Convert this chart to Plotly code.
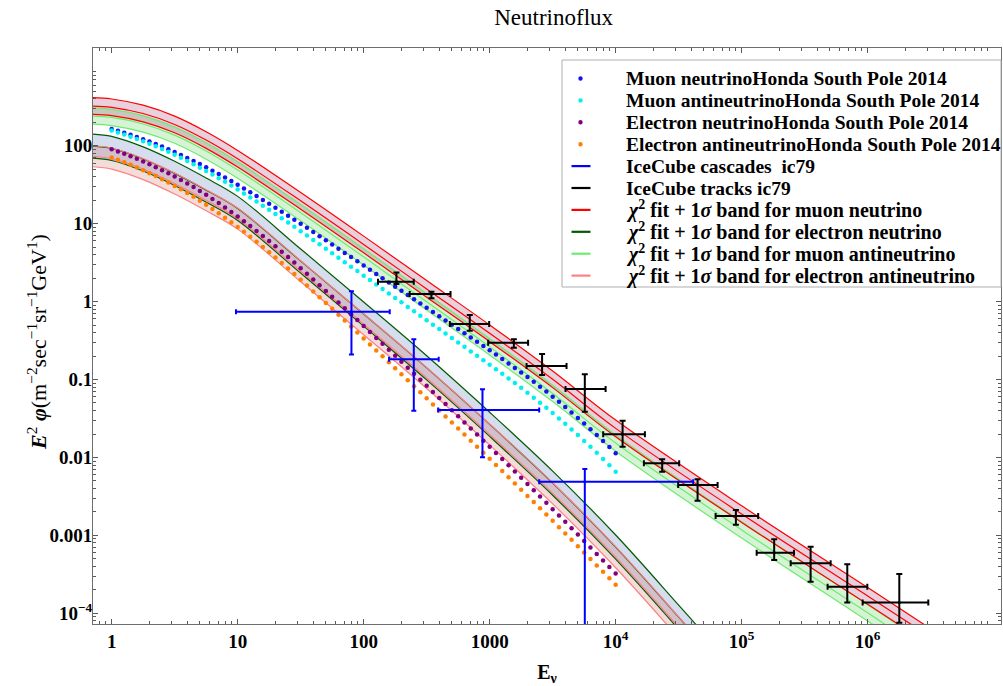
import plotly.graph_objects as go

# ---------------- Honda 2014 South Pole atmospheric fluxes ----------------
# log10(E / GeV) grid of the table and log10(E^2 phi) for each flavour
honda_log_e = [
    0.00, 0.05, 0.10, 0.15, 0.20, 0.25, 0.30, 0.35, 0.40, 0.45,
    0.50, 0.55, 0.60, 0.65, 0.70, 0.75, 0.80, 0.85, 0.90, 0.95,
    1.00, 1.05, 1.10, 1.15, 1.20, 1.25, 1.30, 1.35, 1.40, 1.45,
    1.50, 1.55, 1.60, 1.65, 1.70, 1.75, 1.80, 1.85, 1.90, 1.95,
    2.00, 2.05, 2.10, 2.15, 2.20, 2.25, 2.30, 2.35, 2.40, 2.45,
    2.50, 2.55, 2.60, 2.65, 2.70, 2.75, 2.80, 2.85, 2.90, 2.95,
    3.00, 3.05, 3.10, 3.15, 3.20, 3.25, 3.30, 3.35, 3.40, 3.45,
    3.50, 3.55, 3.60, 3.65, 3.70, 3.75, 3.80, 3.85, 3.90, 3.95,
    4.00,
]
honda_numu = [
    2.214, 2.191, 2.166, 2.140, 2.113, 2.084, 2.054, 2.022, 1.989, 1.955,
    1.919, 1.882, 1.844, 1.805, 1.764, 1.723, 1.680, 1.636, 1.592, 1.546,
    1.499, 1.451, 1.403, 1.354, 1.305, 1.255, 1.205, 1.154, 1.103, 1.051,
    0.999, 0.946, 0.893, 0.840, 0.786, 0.733, 0.679, 0.625, 0.571, 0.517,
    0.463, 0.409, 0.355, 0.300, 0.246, 0.192, 0.138, 0.083, 0.029, -0.025,
    -0.079, -0.134, -0.188, -0.243, -0.297, -0.352, -0.406, -0.461, -0.515, -0.570,
    -0.624, -0.679, -0.736, -0.793, -0.851, -0.909, -0.969, -1.030, -1.092, -1.155,
    -1.220, -1.286, -1.354, -1.423, -1.493, -1.565, -1.638, -1.713, -1.789, -1.867,
    -1.946,
]
honda_numubar = [
    2.194, 2.170, 2.143, 2.116, 2.087, 2.057, 2.025, 1.992, 1.957, 1.922,
    1.884, 1.845, 1.804, 1.763, 1.719, 1.676, 1.630, 1.584, 1.537, 1.489,
    1.439, 1.388, 1.336, 1.284, 1.231, 1.178, 1.124, 1.070, 1.015, 0.960,
    0.904, 0.848, 0.791, 0.735, 0.677, 0.621, 0.563, 0.506, 0.448, 0.391,
    0.333, 0.276, 0.219, 0.161, 0.104, 0.047, -0.010, -0.068, -0.125, -0.182,
    -0.239, -0.297, -0.353, -0.411, -0.467, -0.525, -0.581, -0.639, -0.695, -0.753,
    -0.809, -0.867, -0.926, -0.986, -1.046, -1.107, -1.169, -1.233, -1.297, -1.363,
    -1.430, -1.499, -1.569, -1.641, -1.713, -1.788, -1.864, -1.941, -2.020, -2.100,
    -2.182,
]
honda_nue = [
    1.954, 1.926, 1.896, 1.865, 1.832, 1.798, 1.762, 1.725, 1.686, 1.646,
    1.604, 1.561, 1.516, 1.469, 1.420, 1.370, 1.318, 1.264, 1.208, 1.151,
    1.092, 1.031, 0.969, 0.906, 0.842, 0.776, 0.709, 0.641, 0.572, 0.501,
    0.429, 0.356, 0.283, 0.210, 0.136, 0.062, -0.012, -0.087, -0.162, -0.237,
    -0.313, -0.389, -0.466, -0.542, -0.619, -0.696, -0.772, -0.849, -0.926, -1.004,
    -1.081, -1.159, -1.237, -1.315, -1.393, -1.472, -1.550, -1.628, -1.706, -1.785,
    -1.863, -1.942, -2.021, -2.101, -2.181, -2.261, -2.341, -2.421, -2.501, -2.582,
    -2.663, -2.744, -2.826, -2.908, -2.990, -3.073, -3.155, -3.238, -3.321, -3.405,
    -3.488,
]
honda_nuebar = [
    1.849, 1.820, 1.788, 1.756, 1.721, 1.686, 1.648, 1.610, 1.569, 1.528,
    1.484, 1.440, 1.393, 1.345, 1.294, 1.243, 1.189, 1.134, 1.076, 1.018,
    0.957, 0.895, 0.831, 0.767, 0.701, 0.634, 0.565, 0.496, 0.425, 0.353,
    0.279, 0.205, 0.131, 0.057, -0.018, -0.093, -0.168, -0.244, -0.320, -0.396,
    -0.473, -0.549, -0.626, -0.702, -0.779, -0.856, -0.932, -1.009, -1.086, -1.164,
    -1.241, -1.319, -1.396, -1.474, -1.551, -1.630, -1.707, -1.785, -1.862, -1.941,
    -2.018, -2.097, -2.175, -2.255, -2.334, -2.414, -2.493, -2.573, -2.652, -2.733,
    -2.813, -2.894, -2.975, -3.057, -3.138, -3.221, -3.302, -3.385, -3.467, -3.551,
    -3.633,
]

# ---------------- IceCube IC79 unfolded spectra ----------------
track_e = [182, 345, 695, 1556, 2606, 5689, 11350, 23390, 44670, 89950,
           181100, 352400, 688700, 1782000]
track_e_lo = [130, 232, 483, 973, 1963, 3999, 7962, 16750, 31330, 62090,
              131500, 244900, 480800, 912000]
track_e_hi = [250, 489, 991, 2018, 4074, 8318, 17060, 31920, 64420, 135200,
              260000, 508200, 993100, 3027000]
track_flux = [1.80, 1.25, 0.515, 0.296, 0.149, 0.0755, 0.0198, 0.00841, 0.00443,
              0.00177, 0.000598, 0.000438, 0.000219, 0.000138]
track_flux_lo = [1.68, 1.10, 0.423, 0.256, 0.114, 0.0386, 0.01374, 0.00656, 0.00279,
                 0.00137, 0.000482, 0.000254, 0.000138, 0.0000757]
track_flux_hi = [2.37, 1.34, 0.673, 0.328, 0.212, 0.117, 0.0296, 0.00946, 0.00524,
                 0.00211, 0.000889, 0.000715, 0.000425, 0.000319]

cascade_e = [80, 250, 877, 5689]
cascade_e_lo = [9.7, 159, 390, 2472]
cascade_e_hi = [161, 394, 2472, 41210]
cascade_flux = [0.741, 0.1816, 0.0406, 0.00488]
cascade_flux_lo = [0.21, 0.0397, 0.01005, 0.000001]
cascade_flux_hi = [1.36, 0.328, 0.0748, 0.0071]

# ---------------- chi^2 fits (log10 E, log10 E^2 phi) and 1 sigma widths ----------------
fit_log_e_mu = [-0.148, 0.0, 0.25, 0.5, 0.75, 1.0, 1.5, 2.0, 2.5, 3.0, 3.5, 4.0, 5.0, 6.0, 7.06]
fit_numu = [2.509, 2.493, 2.413, 2.273, 2.073, 1.833, 1.293, 0.733, 0.163, -0.407,
            -0.997, -1.627, -2.727, -3.777, -4.897]
fit_numubar = [2.381, 2.363, 2.279, 2.136, 1.932, 1.688, 1.141, 0.574, -0.003, -0.581,
               -1.178, -1.815, -2.930, -3.994, -5.130]
fit_log_e_e = [-0.148, 0.0, 0.25, 0.5, 0.75, 1.0, 1.5, 2.0, 2.5, 3.0, 3.5, 4.0, 4.5, 5.0, 5.5]
fit_nue = [1.995, 1.965, 1.83, 1.645, 1.43, 1.195, 0.52, -0.16, -0.85, -1.575,
           -2.33, -3.15, -4.05, -4.97, -5.95]
fit_nuebar = [1.865, 1.835, 1.70, 1.515, 1.30, 1.065, 0.39, -0.29, -0.98, -1.705,
              -2.46, -3.28, -4.18, -5.10, -6.08]
sigma_numu = 0.107
sigma_numubar = 0.105
sigma_nue = 0.155
sigma_nuebar = 0.135

SERIF = "Liberation Serif"
C_NUMU_PTS = "rgb(20,20,240)"
C_NUMUBAR_PTS = "rgb(0,240,240)"
C_NUE_PTS = "rgb(128,0,128)"
C_NUEBAR_PTS = "rgb(255,128,0)"
C_CASCADE = "rgb(0,0,255)"
C_TRACK = "black"
C_FIT_NUMU = "rgb(255,0,0)"
C_FIT_NUE = "rgb(0,90,0)"
C_FIT_NUMUBAR = "rgb(110,235,110)"
C_FIT_NUEBAR = "rgb(250,130,130)"

fig = go.Figure()


def pow10(vals):
    return [10 ** v for v in vals]


bands = [
    # (log E knots, centre, sigma, line colour, fill colour)
    (fit_log_e_e, fit_nue, sigma_nue, C_FIT_NUE, "rgba(70,100,180,0.22)"),
    (fit_log_e_e, fit_nuebar, sigma_nuebar, C_FIT_NUEBAR, "rgba(200,80,70,0.20)"),
    (fit_log_e_mu, fit_numubar, sigma_numubar, C_FIT_NUMUBAR, "rgba(70,200,70,0.22)"),
    (fit_log_e_mu, fit_numu, sigma_numu, C_FIT_NUMU, "rgba(150,40,100,0.22)"),
]

# shaded 1 sigma regions
for le, c, s, lc, fc in bands:
    x = pow10(le)
    fig.add_trace(go.Scatter(x=x, y=pow10([v - s for v in c]), mode="lines",
                             line=dict(width=0, shape="spline"), showlegend=False,
                             hoverinfo="skip"))
    fig.add_trace(go.Scatter(x=x, y=pow10([v + s for v in c]), mode="lines",
                             line=dict(width=0, shape="spline"), fill="tonexty",
                             fillcolor=fc, showlegend=False, hoverinfo="skip"))

# band edges and best-fit curves
for le, c, s, lc, fc in bands:
    x = pow10(le)
    for off in (-s, 0.0, s):
        fig.add_trace(go.Scatter(x=x, y=pow10([v + off for v in c]), mode="lines",
                                 line=dict(color=lc, width=1.2, shape="spline"),
                                 showlegend=False, hoverinfo="skip"))

# Honda model points
honda_e = pow10(honda_log_e)
for vals, col in [(honda_numu, C_NUMU_PTS), (honda_numubar, C_NUMUBAR_PTS),
                  (honda_nue, C_NUE_PTS), (honda_nuebar, C_NUEBAR_PTS)]:
    fig.add_trace(go.Scatter(x=honda_e, y=pow10(vals), mode="markers",
                             marker=dict(color=col, size=4.5), showlegend=False))


def err_trace(e, elo, ehi, f, flo, fhi, col, cap):
    return go.Scatter(
        x=e, y=f, mode="markers", marker=dict(color=col, size=3), showlegend=False,
        error_x=dict(type="data", symmetric=False,
                     array=[h - v for h, v in zip(ehi, e)],
                     arrayminus=[v - l for l, v in zip(elo, e)],
                     color=col, thickness=2, width=cap),
        error_y=dict(type="data", symmetric=False,
                     array=[h - v for h, v in zip(fhi, f)],
                     arrayminus=[v - l for l, v in zip(flo, f)],
                     color=col, thickness=2, width=cap),
    )


fig.add_trace(err_trace(cascade_e, cascade_e_lo, cascade_e_hi,
                        cascade_flux, cascade_flux_lo, cascade_flux_hi, C_CASCADE, 2.5))
fig.add_trace(err_trace(track_e, track_e_lo, track_e_hi,
                        track_flux, track_flux_lo, track_flux_hi, C_TRACK, 3))

# ---------------- legend box (drawn in paper coordinates) ----------------
PLOT_L, PLOT_R, PLOT_T, PLOT_B = 93, 1001, 48, 624


def px(xp):
    return (xp - PLOT_L) / (PLOT_R - PLOT_L)


def py(yp):
    return (PLOT_B - yp) / (PLOT_B - PLOT_T)


legend_items = [
    ("dot", C_NUMU_PTS, "Muon neutrinoHonda South Pole 2014"),
    ("dot", C_NUMUBAR_PTS, "Muon antineutrinoHonda South Pole 2014"),
    ("dot", C_NUE_PTS, "Electron neutrinoHonda South Pole 2014"),
    ("dot", C_NUEBAR_PTS, "Electron antineutrinoHonda South Pole 2014"),
    ("line", C_CASCADE, "IceCube cascades  ic79"),
    ("line", C_TRACK, "IceCube tracks ic79"),
    ("line", C_FIT_NUMU, "<i>χ</i><sup>2</sup> fit + 1<i>σ</i> band for muon neutrino"),
    ("line", C_FIT_NUE, "<i>χ</i><sup>2</sup> fit + 1<i>σ</i> band for electron neutrino"),
    ("line", C_FIT_NUMUBAR, "<i>χ</i><sup>2</sup> fit + 1<i>σ</i> band for muon antineutrino"),
    ("line", C_FIT_NUEBAR, "<i>χ</i><sup>2</sup> fit + 1<i>σ</i> band for electron antineutrino"),
]

shapes = [dict(type="rect", xref="paper", yref="paper",
               x0=px(562), x1=px(1001), y0=py(287), y1=py(60),
               fillcolor="white", line=dict(color="rgb(175,175,175)", width=1),
               layer="above")]
annotations = []
row0, row_step = 78.5, 21.9
for i, (kind, col, label) in enumerate(legend_items):
    yc = row0 + i * row_step
    if kind == "dot":
        shapes.append(dict(type="circle", xref="paper", yref="paper",
                           xsizemode="pixel", ysizemode="pixel",
                           xanchor=px(580.5), yanchor=py(yc),
                           x0=-2.2, x1=2.2, y0=-2.2, y1=2.2,
                           fillcolor=col, line=dict(width=0), layer="above"))
    else:
        shapes.append(dict(type="line", xref="paper", yref="paper",
                           x0=px(571.5), x1=px(590.5), y0=py(yc), y1=py(yc),
                           line=dict(color=col, width=2.2), layer="above"))
    size = 19.5 if kind == "dot" or i < 6 else 20
    annotations.append(dict(text="<b>" + label + "</b>", xref="paper", yref="paper",
                            x=px(624), y=py(yc), xanchor="left", yanchor="middle",
                            showarrow=False,
                            font=dict(family=SERIF, size=size, color="black")))

# vertical axis title, centred on the frame
annotations.append(dict(
    text="<b><i>E</i></b><sup>2</sup> <b><i>φ</i></b>(m<sup>−2</sup>sec<sup>−1</sup>"
         "sr<sup>−1</sup>GeV<sup>1</sup>)",
    xref="paper", yref="paper", x=px(37), y=py(342), textangle=-90,
    xanchor="center", yanchor="middle", showarrow=False,
    font=dict(family=SERIF, size=22, color="black")))

# ---------------- axes ----------------
x_major = [1, 10, 100, 1000, 1e4, 1e5, 1e6]
x_text = ["<b>1</b>", "<b>10</b>", "<b>100</b>", "<b>1000</b>",
          "<b>10<sup>4</sup></b>", "<b>10<sup>5</sup></b>", "<b>10<sup>6</sup></b>"]
x_minor = [m * 10 ** k for k in range(-1, 8) for m in range(2, 10)]
y_major = [1e-4, 1e-3, 1e-2, 0.1, 1, 10, 100]
y_text = ["<b>10<sup>−4</sup></b>", "<b>0.001</b>", "<b>0.01</b>", "<b>0.1</b>",
          "<b>1</b>", "<b>10</b>", "<b>100</b>"]
y_minor = [m * 10 ** k for k in range(-5, 4) for m in range(2, 10)]

axis_common = dict(
    type="log", showgrid=False, zeroline=False, showline=True,
    linecolor="rgb(110,110,110)", linewidth=1, mirror="allticks",
    ticks="inside", ticklen=5, tickwidth=1, tickcolor="rgb(90,90,90)",
    tickfont=dict(family=SERIF, size=19, color="black"),
)

fig.update_xaxes(
    **axis_common, range=[-0.148, 7.058], tickmode="array",
    tickvals=x_major, ticktext=x_text,
    minor=dict(ticks="inside", ticklen=3, tickcolor="rgb(90,90,90)",
               tickmode="array", tickvals=x_minor, showgrid=False),
    title=dict(text="<b>E<sub>ν</sub></b>", font=dict(family=SERIF, size=20, color="black"),
               standoff=14),
)
fig.update_yaxes(
    **axis_common, range=[-4.137, 3.254], tickmode="array",
    tickvals=y_major, ticktext=y_text, ticklabelstandoff=-4,
    minor=dict(ticks="inside", ticklen=3, tickcolor="rgb(90,90,90)",
               tickmode="array", tickvals=y_minor, showgrid=False),
)

fig.update_layout(
    width=1003, height=686,
    margin=dict(l=93, r=2, t=48, b=62),
    paper_bgcolor="white", plot_bgcolor="white",
    title=dict(text="Neutrinoflux", x=0.552, xanchor="center", y=0.975, yref="container",
               yanchor="middle", font=dict(family=SERIF, size=23, color="black")),
    showlegend=False,
    shapes=shapes,
    annotations=annotations,
)

fig.write_html("out.html")
